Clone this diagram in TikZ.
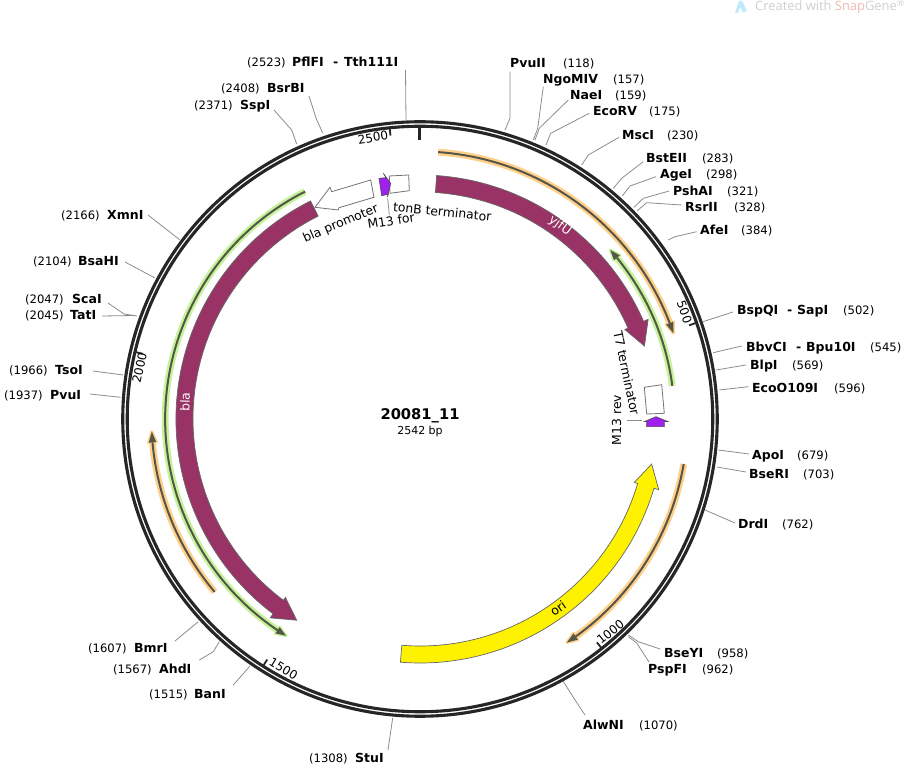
\documentclass[tikz,border=0pt]{standalone}
\usepackage{fontspec}
\setmainfont{DejaVu Sans}
\newfontfamily\wmfont{Open Sans}
\definecolor{maroon}{HTML}{993366}
\definecolor{halog}{HTML}{C4F39A}
\definecolor{haloo}{HTML}{FFD08A}
\definecolor{darkl}{HTML}{555548}
\definecolor{ringc}{HTML}{262626}
\definecolor{leadc}{HTML}{8C8C8C}
\definecolor{purp}{HTML}{A020F0}
\definecolor{wmgrey}{HTML}{CFCFCF}
\definecolor{wmpink}{HTML}{EFB9B0}
\tikzset{
  nm/.style={anchor=west,inner sep=0pt,yshift=-2pt,font=\fontsize{12.5}{14}\selectfont\bfseries,text height=9pt,text depth=3pt},
  num/.style={anchor=west,inner sep=0pt,yshift=-2pt,font=\fontsize{11.6}{14}\selectfont,text height=9pt,text depth=3pt},
  lead/.style={draw=leadc,line width=0.8pt},
  fealab/.style={inner sep=0pt,font=\fontsize{12.4}{14}\selectfont},
  ticklab/.style={inner sep=0pt,font=\fontsize{12}{14}\selectfont},
  bandy/.style={draw=black!60,line width=0.7pt},
  boxf/.style={draw=black!55,line width=0.8pt,fill=white},
  purpf/.style={draw=black!70,line width=0.6pt,fill=purp},
}
% band arrow: style, a0 (tail), a1 (head base), a2 (tip); CW degrees from the top
\newcommand\bandarrow[4]{%
  \draw[bandy,#1] ({90-#2}:244) arc[start angle={90-#2},end angle={90-#3},radius=244]
    -- ({90-#3}:249) -- ({90-#4}:236) -- ({90-#3}:223.5) -- ({90-#3}:227)
    arc[start angle={90-#3},end angle={90-#2},radius=227] -- cycle;}
% thin arrow: colour, radius, a0, a1 (tip), sign of direction
\newcommand\thinarrow[5]{%
  \pgfmathsetmacro\abase{#4-#5*2.3}%
  \draw[#1,line width=6.8pt,line cap=butt] ({90-#3}:#2) arc[start angle={90-#3},end angle={90-\abase},radius=#2];
  \filldraw[#1,line width=2.8pt,line join=round] ({90-#4}:#2) -- ({90-\abase}:#2+4) -- ({90-\abase}:#2-4) -- cycle;
  \draw[darkl,line width=2pt] ({90-#3}:#2) arc[start angle={90-#3},end angle={90-\abase},radius=#2];
  \fill[darkl] ({90-#4}:#2) -- ({90-\abase}:#2+3.8) -- ({90-\abase}:#2-3.8) -- cycle;}
\newcommand\leadtwo[3]{\coordinate (#1a) at #2; \coordinate (#1b) at #3; \draw[lead] (#1a) -- (#1b);}
\newcommand\leadthree[4]{\coordinate (#1a) at #2; \coordinate (#1b) at #3; \coordinate (#1c) at #4; \draw[lead] (#1a) -- (#1b) -- (#1c);}
\newcommand\tickm[1]{%
  \pgfmathsetmacro\ta{90-#1/2542*360}%
  \draw[ringc,line width=1.8pt] (\ta:285) -- (\ta:293);}
\begin{document}
\begin{tikzpicture}[x=1pt,y=1pt]
\useasboundingbox (-420,-348) rectangle (485,419);
% ring
\node[circle,draw=ringc,line width=3.1pt,minimum size=594.5pt,inner sep=0pt] (ringout) at (0,0) {};
\node[circle,draw=ringc,line width=3.1pt,minimum size=585.5pt,inner sep=0pt] (ringin) at (0,0) {};
\draw[ringc,line width=3pt] (90:278.5) -- (90:294);
\tickm{500}\tickm{1000}\tickm{1500}\tickm{2000}\tickm{2500}
% thin features
\thinarrow{haloo}{267.5}{3.9}{71.3}{1}
\thinarrow{halog}{254.5}{82.5}{48.4}{-1}
\thinarrow{haloo}{267.5}{99.7}{146.7}{1}
\thinarrow{haloo}{268.5}{229.9}{267.3}{1}
\thinarrow{halog}{254.8}{-26.8}{-148.3}{-1}
% big features
\bandarrow{fill=maroon}{3.9}{66.4}{72}
\bandarrow{fill=yellow}{184.6}{106.5}{101}
\bandarrow{fill=maroon}{-26.65}{-143}{-148.5}
\begin{scope}[shift={(-420,419)},y=-1pt]
% boxes
\draw[boxf] (315,207.3) -- (330,187.3) -- (331.7,191.7) -- (370.7,180) -- (374,197.3) -- (339,207.7) -- (338.3,210) -- cycle;
\draw[boxf] (389.3,176) -- (408.7,175) -- (409.3,190.7) -- (390,193.3) -- cycle;
\draw[boxf] (644.3,387.3) -- (661.7,384.7) -- (664.3,413.3) -- (646.7,414) -- cycle;
\draw[purpf] (379,178.3) -- (386,177.7) -- (383.3,173.3) -- (390.7,183.3) -- (388.3,194.3) -- (387.5,197) -- (388,194.3) -- (381.7,195.7) -- cycle;
\draw[purpf] (646.7,426.7) -- (664.3,426.7) -- (664.3,421.7) -- (668.3,421.7) -- (656,416.7) -- (644,421.7) -- (646.7,421.7) -- cycle;
\leadtwo{m13f}{(387.7,198.3)}{(389.3,215)}
\leadtwo{m13r}{(626.7,420.7)}{(641.7,420.7)}
% feature labels
\node[fealab,text=white,rotate=-36] (lyjfu) at (560,226) {yjfU};
\node[fealab,text=white,rotate=88] (lbla) at (185,402) {bla};
\node[fealab,rotate=35] (lori) at (558,608) {ori};
\node[fealab,rotate=23] (lblap) at (340.7,224) {bla promoter};
\node[fealab,rotate=-6] (lton) at (442.3,211.7) {tonB terminator};
\node[fealab,rotate=9] (lm13f) at (391,220.7) {M13 for};
\node[fealab,rotate=-78] (lt7) at (626.7,373) {T7 terminator};
\node[fealab,rotate=90] (lm13r) at (616.7,420) {M13 rev};
% tick labels
\node[ticklab,rotate=9] (t2500) at (373,137.5) {2500};
\node[ticklab,rotate=-71] (t500) at (684.5,312) {500};
\node[ticklab,rotate=38] (t1000) at (610.5,632) {1000};
\node[ticklab,rotate=-31] (t1500) at (283.5,669) {1500};
\node[ticklab,rotate=77] (t2000) at (139.5,368) {2000};
% centre
\node[inner sep=0pt,font=\fontsize{14.7}{16}\selectfont\bfseries] (title) at (420,415.5) {20081\_11};
\node[inner sep=0pt,font=\fontsize{11}{13}\selectfont] (size) at (420,431.5) {2542 bp};
% site labels, left side
\node[num] (n1) at (247,62) {(2523)}; \node[nm] (s1) at (292,62) {PflFI}; \node[nm] (d1) at (333,62) {-}; \node[nm] (s1b) at (344,62) {Tth111I};
\node[num] (n2) at (221,88) {(2408)}; \node[nm] (s2) at (267,88) {BsrBI};
\node[num] (n3) at (194,105) {(2371)}; \node[nm] (s3) at (240,105) {SspI};
\node[num] (n4) at (61,215) {(2166)}; \node[nm] (s4) at (107,215) {XmnI};
\node[num] (n5) at (33,261) {(2104)}; \node[nm] (s5) at (78,261) {BsaHI};
\node[num] (n6) at (25,299) {(2047)}; \node[nm] (s6) at (72,299) {ScaI};
\node[num] (n7) at (25,315) {(2045)}; \node[nm] (s7) at (70,315) {TatI};
\node[num] (n8) at (9,370) {(1966)}; \node[nm] (s8) at (55,370) {TsoI};
\node[num] (n9) at (4,395) {(1937)}; \node[nm] (s9) at (50,395) {PvuI};
\node[num] (n10) at (88,648) {(1607)}; \node[nm] (s10) at (134,648) {BmrI};
\node[num] (n11) at (113,669) {(1567)}; \node[nm] (s11) at (159,669) {AhdI};
\node[num] (n12) at (149,694) {(1515)}; \node[nm] (s12) at (194,694) {BanI};
\node[num] (n13) at (309,758) {(1308)}; \node[nm] (s13) at (355,758) {StuI};
% site labels, right side
\node[nm] (s14) at (583,725) {AlwNI}; \node[num] (n14) at (639,725) {(1070)};
\node[nm] (s15) at (648,669) {PspFI}; \node[num] (n15) at (702,669) {(962)};
\node[nm] (s16) at (664,653) {BseYI}; \node[num] (n16) at (717,653) {(958)};
\node[nm] (s17) at (738,524) {DrdI}; \node[num] (n17) at (782,524) {(762)};
\node[nm] (s18) at (749,474) {BseRI}; \node[num] (n18) at (803,474) {(703)};
\node[nm] (s19) at (752,455) {ApoI}; \node[num] (n19) at (797,455) {(679)};
\node[nm] (s20) at (752,388) {EcoO109I}; \node[num] (n20) at (834,388) {(596)};
\node[nm] (s21) at (750,365) {BlpI}; \node[num] (n21) at (792,365) {(569)};
\node[nm] (s22) at (746,347) {BbvCI}; \node[nm] (d22) at (796,347) {-}; \node[nm] (s22b) at (806,347) {Bpu10I}; \node[num] (n22) at (870,347) {(545)};
\node[nm] (s23) at (737,310) {BspQI}; \node[nm] (d23) at (787,310) {-}; \node[nm] (s23b) at (797,310) {SapI}; \node[num] (n23) at (843,310) {(502)};
\node[nm] (s24) at (700,230) {AfeI}; \node[num] (n24) at (741,230) {(384)};
\node[nm] (s25) at (685,207) {RsrII}; \node[num] (n25) at (734,207) {(328)};
\node[nm] (s26) at (673,191) {PshAI}; \node[num] (n26) at (727,191) {(321)};
\node[nm] (s27) at (660,174) {AgeI}; \node[num] (n27) at (706,174) {(298)};
\node[nm] (s28) at (646,158) {BstEII}; \node[num] (n28) at (702,158) {(283)};
\node[nm] (s29) at (622,135) {MscI}; \node[num] (n29) at (667,135) {(230)};
\node[nm] (s30) at (593,111) {EcoRV}; \node[num] (n30) at (649,111) {(175)};
\node[nm] (s31) at (570,95) {NaeI}; \node[num] (n31) at (615,95) {(159)};
\node[nm] (s32) at (543,79) {NgoMIV}; \node[num] (n32) at (613,79) {(157)};
\node[nm] (s33) at (510,63) {PvuII}; \node[num] (n33) at (563,63) {(118)};
% leaders
\leadtwo{l1}{(405.5,70)}{(406,120)}
\leadthree{l2}{(309,96)}{(316,118)}{(322.7,133)}
\leadthree{l3}{(274,110)}{(291.7,130)}{(296.7,144)}
\leadtwo{l4}{(148,215)}{(180,240)}
\leadtwo{l5}{(125,262)}{(155,278)}
\leadthree{l6}{(108,303)}{(124,314)}{(137,316)}
\leadtwo{l7}{(102,316)}{(135,315.5)}
\leadtwo{l8}{(93,371)}{(123.3,375)}
\leadtwo{l9}{(90,394)}{(120.7,397.3)}
\leadtwo{l10}{(175,641)}{(198.3,621.7)}
\leadthree{l11}{(199.3,660)}{(213.3,651.7)}{(219.3,641.7)}
\leadtwo{l12}{(233.3,685)}{(250,666)}
\leadtwo{l13}{(388,750)}{(392.7,718)}
\leadthree{l14}{(585,715)}{(575,700)}{(563,681)}
\leadthree{l15}{(649,662)}{(636.7,643)}{(628.3,636.7)}
\leadthree{l16}{(660,649)}{(638.3,641.7)}{(628.3,635)}
\leadtwo{l17}{(735,523)}{(705,510)}
\leadtwo{l18}{(746,472)}{(717,467)}
\leadtwo{l19}{(749,454)}{(718.3,450)}
\leadtwo{l20}{(748.3,386.7)}{(719.3,390)}
\leadtwo{l21}{(746,365)}{(716,370)}
\leadtwo{l22}{(741.7,346)}{(713.3,352.7)}
\leadtwo{l23}{(733,312)}{(703,321.7)}
\leadthree{l24}{(696.7,231.7)}{(675,236.7)}{(668.3,240)}
\leadthree{l25}{(681.7,205)}{(646.7,202.7)}{(637.3,210.7)}
\leadthree{l26}{(669.3,191)}{(643.3,198.3)}{(634,207.3)}
\leadthree{l27}{(656,176.7)}{(630,186)}{(622.3,196)}
\leadthree{l28}{(643.3,161.7)}{(621.7,178.3)}{(613.3,188.3)}
\leadthree{l29}{(619,137.3)}{(588.3,155)}{(581.7,165)}
\leadthree{l30}{(589.3,113.3)}{(550.7,133.3)}{(546,145)}
\leadthree{l31}{(568.3,100)}{(539.3,128.3)}{(535,140)}
\leadthree{l32}{(543.3,86.7)}{(537.7,128.3)}{(533.3,140)}
\leadthree{l33}{(510,71.7)}{(510,118.3)}{(505,130)}
% watermark
\fill[cyan!25!white] (735,13) -- (739,1) -- (742,1) -- (747,11) -- (743,12.5) -- (740,7) -- (738,13) -- cycle;
\node[anchor=west,inner sep=0pt,font=\wmfont\fontsize{12.9}{14}\selectfont,text=wmgrey] (wm) at (755,7) {Created with \textcolor{wmpink}{Snap}Gene\textsuperscript{®}};
\end{scope}
\end{tikzpicture}
\end{document}
